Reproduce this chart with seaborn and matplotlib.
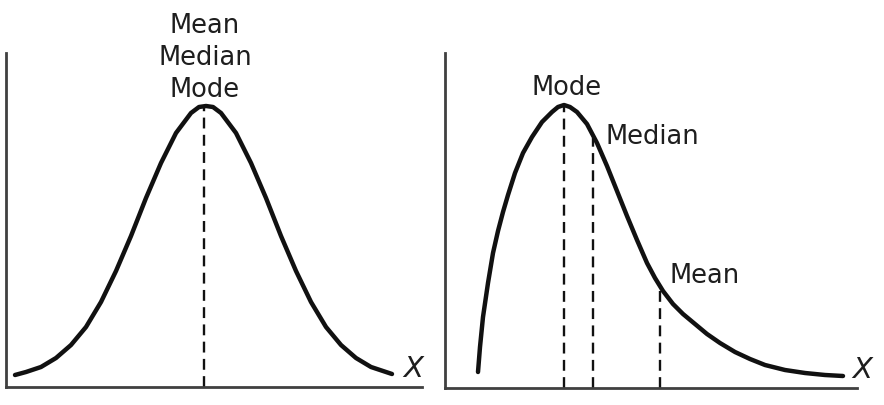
import matplotlib
matplotlib.use('Agg')
import matplotlib.pyplot as plt
import seaborn as sns
import pandas as pd

# symmetric curve (left panel): x from the y-axis, height above the x-axis
sym_x = [9, 20, 35, 50, 65, 80, 95, 110, 125, 140, 155, 170, 185, 193, 200,
         207, 215, 230, 245, 260, 275, 290, 305, 320, 335, 350, 365, 380, 386]
sym_y = [12, 15, 20, 29, 42, 60, 85, 116, 151, 189, 224, 254, 274, 280, 281,
         280, 274, 254, 224, 189, 151, 116, 85, 60, 42, 29, 20, 15, 13]
sym_label = 'Mean\nMedian\nMode'
sym_mark_x = [198]
sym_mark_y = [281]

# right-skewed curve (right panel)
skew_x = [33, 35, 38, 43, 48, 53, 58, 63, 70, 78, 87, 97, 107, 113, 119,
          125, 132, 142, 152, 162, 172, 182, 192, 202, 210, 218, 228, 238,
          250, 262, 275, 290, 305, 320, 340, 360, 380, 398]
skew_y = [16, 41, 71, 105, 135, 157, 176, 193, 215, 235, 251, 266, 276, 281,
          283, 281, 276, 264, 245, 222, 197, 172, 148, 125, 110, 97, 84, 74,
          64, 54, 45, 36, 29, 23, 18, 15, 13, 12]
skew_labels = ['Mode', 'Median', 'Mean']
skew_mark_x = [119, 148, 215]
skew_mark_y = [283, 250, 100]

sns.set_style('white')
plt.rcParams['font.family'] = ['DejaVu Sans']

W, H = 884, 405
fig = plt.figure(figsize=(W / 100, H / 100), dpi=100)
fig.patch.set_facecolor('white')

ink = '#111111'
axis_col = '#404040'
txt_col = '#1e1e1e'
fs = 18.5


def make_axes(left_px, right_px, top_px, base_px):
    ax = fig.add_axes([left_px / W, (H - base_px) / H,
                       (right_px - left_px) / W, (base_px - top_px) / H])
    ax.set_xlim(0, right_px - left_px)
    ax.set_ylim(0, base_px - top_px)
    for side in ['top', 'right']:
        ax.spines[side].set_visible(False)
    for side in ['left', 'bottom']:
        ax.spines[side].set_color(axis_col)
        ax.spines[side].set_linewidth(2.0)
    ax.set_xticks([])
    ax.set_yticks([])
    ax.patch.set_alpha(0)
    return ax


dash = (0, (4.6, 2.7))

# left panel
ax1 = make_axes(6, 422, 53, 387)
df1 = pd.DataFrame({'x': sym_x, 'y': sym_y})
sns.lineplot(data=df1, x='x', y='y', ax=ax1, sort=False, color=ink,
             linewidth=3.2, solid_capstyle='round', solid_joinstyle='round')
ax1.vlines(sym_mark_x, 0, sym_mark_y, colors=ink, linewidth=1.7,
           linestyles=[dash])
ax1.text(sym_mark_x[0] + 1, 329, sym_label, ha='center', va='center',
         fontsize=fs, color=txt_col, linespacing=1.3, clip_on=False)
ax1.text(407, 18, 'X', ha='center', va='center', fontsize=21,
         style='italic', color=txt_col, clip_on=False)
ax1.set_xlabel('')
ax1.set_ylabel('')

# right panel
ax2 = make_axes(445, 857, 53, 388)
df2 = pd.DataFrame({'x': skew_x, 'y': skew_y})
sns.lineplot(data=df2, x='x', y='y', ax=ax2, sort=False, color=ink,
             linewidth=3.2, solid_capstyle='round', solid_joinstyle='round')
ax2.vlines(skew_mark_x, 0, skew_mark_y, colors=ink, linewidth=1.7,
           linestyles=[dash])
ax2.text(skew_mark_x[0] + 3, 300, skew_labels[0], ha='center', va='center',
         fontsize=fs, color=txt_col, clip_on=False)
ax2.text(skew_mark_x[1] + 12, 251, skew_labels[1], ha='left', va='center',
         fontsize=fs, color=txt_col, clip_on=False)
ax2.text(skew_mark_x[2] + 10, 112, skew_labels[2], ha='left', va='center',
         fontsize=fs, color=txt_col, clip_on=False)
ax2.text(417, 18, 'X', ha='center', va='center', fontsize=21,
         style='italic', color=txt_col, clip_on=False)
ax2.set_xlabel('')
ax2.set_ylabel('')

fig.savefig('out.png', dpi=100, facecolor='white')
